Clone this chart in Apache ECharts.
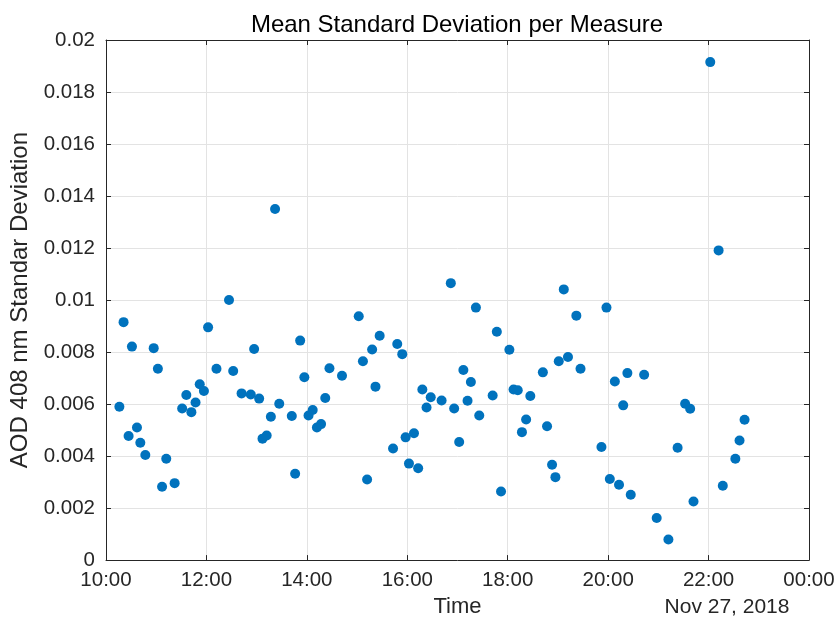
<!DOCTYPE html>
<html>
<head>
<meta charset="utf-8">
<script src="https://cdn.jsdelivr.net/npm/echarts@6/dist/echarts.min.js"></script>
<style>
html,body{margin:0;padding:0;background:#fff;}
#chart{width:838px;height:623px;}
</style>
</head>
<body>
<div id="chart"></div>
<script>
// Measurement times (Nov 27, 2018)
var times = ["10:16","10:21","10:27","10:31","10:37","10:41","10:47","10:57","11:02","11:07",
"11:12","11:22","11:31","11:36","11:42","11:47","11:52","11:57","12:02","12:12",
"12:27","12:32","12:42","12:53","12:57","13:03","13:07","13:12","13:17","13:22",
"13:27","13:42","13:46","13:52","13:57","14:02","14:07","14:12","14:17","14:22",
"14:27","14:42","15:02","15:07","15:12","15:18","15:22","15:27","15:43","15:48",
"15:54","15:58","16:02","16:08","16:13","16:18","16:23","16:28","16:41","16:52",
"16:56","17:02","17:07","17:12","17:16","17:22","17:26","17:42","17:47","17:52",
"18:02","18:07","18:12","18:17","18:22","18:27","18:42","18:47","18:53","18:57",
"19:01","19:07","19:12","19:22","19:27","19:52","19:58","20:02","20:08","20:13",
"20:18","20:23","20:27","20:43","20:58","21:12","21:23","21:32","21:38","21:42",
"22:02","22:12","22:17","22:32","22:37","22:43"];
// Mean standard deviation values
var stdValues = [0.00590,0.00915,0.00477,0.00821,0.00510,0.00451,0.00404,0.00815,0.00736,0.00282,
0.00390,0.00296,0.00583,0.00635,0.00569,0.00606,0.00676,0.00650,0.00895,0.00736,
0.01000,0.00727,0.00641,0.00637,0.00812,0.00621,0.00467,0.00479,0.00551,0.01350,
0.00601,0.00554,0.00332,0.00844,0.00703,0.00556,0.00577,0.00510,0.00523,0.00623,
0.00738,0.00709,0.00938,0.00765,0.00310,0.00810,0.00667,0.00863,0.00429,0.00831,
0.00792,0.00472,0.00371,0.00488,0.00353,0.00656,0.00587,0.00626,0.00614,0.01065,
0.00583,0.00454,0.00731,0.00613,0.00685,0.00971,0.00556,0.00633,0.00878,0.00264,
0.00809,0.00656,0.00653,0.00492,0.00541,0.00631,0.00722,0.00515,0.00367,0.00319,
0.00765,0.01041,0.00781,0.00940,0.00736,0.00435,0.00971,0.00312,0.00687,0.00290,
0.00595,0.00719,0.00251,0.00713,0.00162,0.00079,0.00432,0.00601,0.00582,0.00225,
0.01915,0.01191,0.00286,0.00390,0.00460,0.00540];
// Tick labels
var xTickLabels = ["10:00","12:00","14:00","16:00","18:00","20:00","22:00","00:00"];
var dateLabel = "Nov 27, 2018";

function toMinutes(s){ var p = s.split(":"); return (+p[0])*60 + (+p[1]); }
var points = times.map(function(t,i){ return [toMinutes(t), stdValues[i]]; });

var axisColor = '#262626';
var font = 'Liberation Sans, Arial, Helvetica, sans-serif';
var chart = echarts.init(document.getElementById('chart'), null, {renderer:'canvas'});
chart.setOption({
  animation:false,
  backgroundColor:'#ffffff',
  title:{text:'Mean Standard Deviation per Measure', left:452, textAlign:'center', top:8,
    textStyle:{fontFamily:font, fontSize:24, fontWeight:'normal', color:'#000'}},
  grid:{left:106, right:29, top:40, bottom:62, containLabel:false},
  xAxis:[{
    type:'value', min:600, max:1440, interval:120, position:'bottom',
    name:'Time', nameLocation:'middle', nameGap:35,
    nameTextStyle:{fontFamily:font, fontSize:22, color:axisColor},
    axisLine:{show:true, onZero:false, lineStyle:{color:axisColor, width:1}},
    axisTick:{show:true, inside:true, length:5, lineStyle:{color:axisColor}},
    axisLabel:{margin:10, fontFamily:font, fontSize:20.5, color:axisColor,
      formatter:function(v){ return xTickLabels[Math.round((v-600)/120)]; }},
    splitLine:{show:true, lineStyle:{color:'#e3e3e3', width:1}}
  },{
    type:'value', min:600, max:1440, interval:120, position:'top',
    axisLine:{show:true, onZero:false, lineStyle:{color:axisColor, width:1}},
    axisTick:{show:true, inside:true, length:5, lineStyle:{color:axisColor}},
    axisLabel:{show:false}, splitLine:{show:false}
  }],
  yAxis:[{
    type:'value', min:0, max:0.02, interval:0.002, position:'left',
    name:'AOD 408 nm Standar Deviation', nameLocation:'middle', nameGap:68, nameRotate:90,
    nameTextStyle:{fontFamily:font, fontSize:24, color:axisColor},
    axisLine:{show:true, onZero:false, lineStyle:{color:axisColor, width:1}},
    axisTick:{show:true, inside:true, length:5, lineStyle:{color:axisColor}},
    axisLabel:{margin:11, fontFamily:font, fontSize:20.5, color:axisColor,
      formatter:function(v){ return String(+v.toFixed(3)); }},
    splitLine:{show:true, lineStyle:{color:'#e3e3e3', width:1}}
  },{
    type:'value', min:0, max:0.02, interval:0.002, position:'right',
    axisLine:{show:true, onZero:false, lineStyle:{color:axisColor, width:1}},
    axisTick:{show:true, inside:true, length:5, lineStyle:{color:axisColor}},
    axisLabel:{show:false}, splitLine:{show:false}
  }],
  graphic:[{type:'text', x:727, y:607,
    style:{text:dateLabel, fontFamily:font, fontSize:21, fill:axisColor,
      textAlign:'center', textVerticalAlign:'middle'}}],
  series:[{
    type:'scatter', xAxisIndex:0, yAxisIndex:0, data:points,
    symbol:'circle', symbolSize:10,
    itemStyle:{color:'#0072BD', opacity:1}
  }]
});
</script>
</body>
</html>
